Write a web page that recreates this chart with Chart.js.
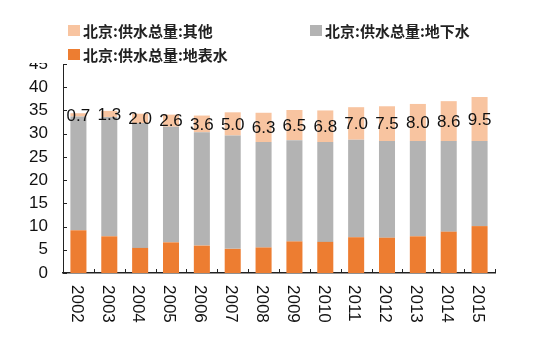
<!DOCTYPE html>
<html>
<head>
<meta charset="utf-8">
<script src="https://cdn.jsdelivr.net/npm/chart.js@4/dist/chart.umd.min.js"></script>
<style>
  html, body { margin: 0; padding: 0; background: #fff; }
  #wrap { position: relative; width: 533px; height: 338px; }
  #legend {
    position: absolute; left: 20px; top: 14px; width: 470px; height: 49px;
    background: #fff; font-family: "Noto Sans CJK SC", sans-serif; font-size: 15px;
    font-weight: bold; color: #222; line-height: 15px;
  }
  .item { position: absolute; display: flex; align-items: center; white-space: nowrap; }
  .sw { width: 12px; height: 11px; margin-right: 3px; }
</style>
</head>
<body>
<div id="wrap">
  <canvas id="c" width="533" height="338"></canvas>
  <div id="legend"></div>
</div>
<script>
// Beijing water supply (亿立方米), by source
const years = ['2002','2003','2004','2005','2006','2007','2008','2009','2010','2011','2012','2013','2014','2015'];
const surfaceWater = [9.2, 7.9, 5.4, 6.6, 5.9, 5.2, 5.5, 6.8, 6.7, 7.7, 7.6, 7.9, 8.9, 10.1];
const groundWater  = [24.5, 25.7, 26.9, 24.9, 24.4, 24.4, 22.7, 21.8, 21.5, 21.0, 20.8, 20.5, 19.5, 18.3];
const otherWater   = [0.7, 1.3, 2.0, 2.6, 3.6, 5.0, 6.3, 6.5, 6.8, 7.0, 7.5, 8.0, 8.6, 9.5];
const seriesNames  = ['北京:供水总量:地表水', '北京:供水总量:地下水', '北京:供水总量:其他'];
const yTicks = [0, 5, 10, 15, 20, 25, 30, 35, 40, 45];

const colors = ['#ED7D31', '#B3B3B3', '#F8C4A0'];
const tickFont = '17px "Liberation Sans", Arial, sans-serif';

// legend: 其他 and 地下水 on the first row, 地表水 below
const legendEl = document.getElementById('legend');
[[2, 48, 9], [1, 290, 9], [0, 48, 33]].forEach(([idx, left, top]) => {
  const d = document.createElement('div');
  d.className = 'item';
  d.style.left = left + 'px';
  d.style.top = top + 'px';
  d.innerHTML = '<span class="sw" style="background:' + colors[idx] + '"></span><span>' + seriesNames[idx] + '</span>';
  legendEl.appendChild(d);
});

// inward tick marks and vertical year labels
const axisDecor = {
  id: 'axisDecor',
  afterDraw(chart) {
    const { ctx, chartArea, scales: { x, y } } = chart;
    ctx.save();
    ctx.strokeStyle = '#222';
    ctx.lineWidth = 1;
    y.ticks.forEach((t, i) => {
      const py = Math.round(y.getPixelForTick(i)) + 0.5;
      ctx.beginPath();
      ctx.moveTo(chartArea.left, py);
      ctx.lineTo(chartArea.left + 4, py);
      ctx.stroke();
    });
    for (let i = 0; i <= years.length; i++) {
      const px = Math.round(x.getPixelForValue(i - 0.5)) + 0.5;
      ctx.beginPath();
      ctx.moveTo(px, chartArea.bottom);
      ctx.lineTo(px, chartArea.bottom - 4);
      ctx.stroke();
    }
    ctx.fillStyle = '#111';
    ctx.font = tickFont;
    ctx.textAlign = 'left';
    ctx.textBaseline = 'middle';
    years.forEach((yr, i) => {
      const px = x.getPixelForTick(i);
      ctx.save();
      ctx.translate(px - 2, chartArea.bottom + 12);
      ctx.rotate(Math.PI / 2);
      ctx.fillText(yr, 0, 0);
      ctx.restore();
    });
    ctx.restore();
  }
};

// value labels centred on the 其他 segment
const otherLabels = {
  id: 'otherLabels',
  afterDatasetsDraw(chart) {
    const { ctx } = chart;
    const meta = chart.getDatasetMeta(2);
    ctx.save();
    ctx.fillStyle = '#111';
    ctx.font = tickFont;
    ctx.textAlign = 'center';
    ctx.textBaseline = 'middle';
    meta.data.forEach((bar, i) => {
      ctx.fillText(otherWater[i].toFixed(1), bar.x, (bar.y + bar.base) / 2 + 1);
    });
    ctx.restore();
  }
};

new Chart(document.getElementById('c'), {
  type: 'bar',
  data: {
    labels: years,
    datasets: [
      { label: seriesNames[0], data: surfaceWater, backgroundColor: colors[0] },
      { label: seriesNames[1], data: groundWater,  backgroundColor: colors[1] },
      { label: seriesNames[2], data: otherWater,   backgroundColor: colors[2] }
    ]
  },
  options: {
    responsive: false,
    animation: false,
    devicePixelRatio: 1,
    layout: { padding: { top: 64, right: 38, bottom: 0, left: 0 } },
    datasets: { bar: { categoryPercentage: 1, barPercentage: 0.52, borderWidth: 0 } },
    plugins: { legend: { display: false }, tooltip: { enabled: false } },
    scales: {
      x: {
        stacked: true,
        grid: { display: false, drawTicks: false },
        border: { display: true, color: '#222', width: 1.5 },
        ticks: { display: false },
        afterFit(scale) { scale.height = 65; }
      },
      y: {
        stacked: true,
        min: 0,
        max: 45,
        grid: { display: false, drawTicks: false },
        border: { display: true, color: '#222', width: 1 },
        afterBuildTicks(scale) { scale.ticks = yTicks.map(v => ({ value: v })); },
        ticks: {
          autoSkip: false,
          padding: 15,
          color: '#111',
          font: { family: '"Liberation Sans", Arial, sans-serif', size: 17 }
        },
        afterFit(scale) { scale.width = 63; }
      }
    }
  },
  plugins: [axisDecor, otherLabels]
});
</script>
</body>
</html>
